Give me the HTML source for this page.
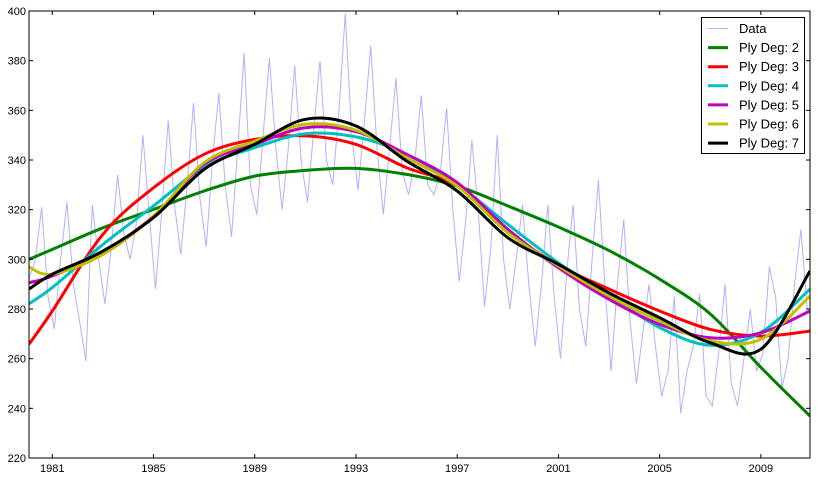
<!DOCTYPE html>
<html><head><meta charset="utf-8"><style>
html,body{margin:0;padding:0;background:#fff;}
svg{display:block;font-family:"Liberation Sans",sans-serif;}
</style></head><body>
<svg id="chart" width="817" height="479"></svg>
<script>
const curveYears=[1980.08,1981,1983,1985,1987,1989,1991,1993,1995,1997,1999,2001,2003,2005,2007,2009,2010.94];
const deg2=[300.0,304.0,312.7,320.1,327.5,333.5,335.8,336.6,334.2,329.5,321.5,313.0,303.5,292.0,278.0,256.5,236.9];
const deg3=[265.8,279.2,310.1,328.8,342.3,348.3,349.7,346.3,336.9,329.5,311.4,297.6,288.0,279.2,271.8,269.1,271.1];
const deg4=[282.1,288.6,306.0,321.5,337.2,345.0,350.6,349.3,342.3,330.2,314.1,298.6,285.4,272.5,265.4,270.6,288.0];
const deg5=[290.6,293.3,302.7,317.4,338.3,346.3,353.0,351.4,342.3,330.9,312.1,296.6,283.9,273.8,268.4,270.4,279.2];
const deg6=[296.9,294.0,302.0,317.4,338.9,347.6,354.4,352.0,340.9,329.5,310.7,297.3,285.2,275.2,267.1,267.8,285.2];
const deg7=[288.0,294.0,303.3,316.8,336.2,346.3,356.4,353.7,339.6,327.5,308.7,298.0,286.5,276.5,266.4,263.8,295.3];
const dataStart=1980.08;
const dataValues=[292,300,321,285,272,300,323,290,275,259,322,300,282,305,334,310,300,315,350,318,288,320,356,322,302,330,363,325,305,340,367,330,309,345,383,330,318,350,381,345,320,345,378,340,323,352,380,340,330,360,399,350,328,355,386,345,318,345,373,335,326,340,366,330,326,335,361,320,291,315,348,320,281,305,350,300,280,300,322,290,265,290,322,285,260,295,322,280,265,300,332,290,255,290,316,275,250,270,290,265,245,255,285,238,255,265,286,245,241,262,290,250,241,260,280,255,262,297,285,248,260,290,312,280];
const yTicks=[220,240,260,280,300,320,340,360,380,400];
const xTicks=[1981,1985,1989,1993,1997,2001,2005,2009];
const seriesNames=["Ply Deg: 2","Ply Deg: 3","Ply Deg: 4","Ply Deg: 5","Ply Deg: 6","Ply Deg: 7"];

const L=29,R=810,T=11,B=458,X0=1980.08,X1=2010.94,Y0=220,Y1=400;
const sx=v=>L+(v-X0)/(X1-X0)*(R-L);
const sy=v=>B-(v-Y0)/(Y1-Y0)*(B-T);
const NS="http://www.w3.org/2000/svg";
const svg=document.getElementById('chart');
function mk(t,a,p){const e=document.createElementNS(NS,t);for(const k in a)e.setAttribute(k,a[k]);(p||svg).appendChild(e);return e;}

const clip=mk('clipPath',{id:'pc'});mk('rect',{x:L,y:T,width:R-L,height:B-T},clip);
const plot=mk('g',{'clip-path':'url(#pc)'});



let d='';dataValues.forEach((v,i)=>{d+=(i?'L':'M')+sx(dataStart+i/4).toFixed(1)+','+sy(v).toFixed(1);});
const dl=mk('path',{d:d,fill:'none',stroke:'#b0b0ff','stroke-width':1},plot);



function smooth(xs,ys){
  const p=xs.map((x,i)=>[sx(x),sy(ys[i])]);
  let s='M'+p[0][0]+','+p[0][1];
  for(let i=0;i<p.length-1;i++){
    const p0=p[Math.max(0,i-1)],p1=p[i],p2=p[i+1],p3=p[Math.min(p.length-1,i+2)];
    const c1=[p1[0]+(p2[0]-p0[0])/6,p1[1]+(p2[1]-p0[1])/6];
    const c2=[p2[0]-(p3[0]-p1[0])/6,p2[1]-(p3[1]-p1[1])/6];
    s+='C'+c1[0].toFixed(1)+','+c1[1].toFixed(1)+' '+c2[0].toFixed(1)+','+c2[1].toFixed(1)+' '+p2[0].toFixed(1)+','+p2[1].toFixed(1);
  }
  return s;
}
const series=[deg2,deg3,deg4,deg5,deg6,deg7];
const colors=['#008000','#ff0000','#00bfbf','#bf00bf','#bfbf00','#000000'];
series.forEach((ys,k)=>{
  const e=mk('path',{d:smooth(curveYears,ys),fill:'none',stroke:colors[k],'stroke-width':3},plot);
  
  
});

const fr=mk('rect',{x:L,y:T,width:R-L,height:B-T,fill:'none',stroke:'#000','stroke-width':1});



yTicks.forEach(v=>{
  const y=sy(v);
  mk('line',{x1:L,x2:L+4,y1:y,y2:y,stroke:'#000'});
  mk('line',{x1:R-4,x2:R,y1:y,y2:y,stroke:'#000'});
  const t=mk('text',{x:L-3,y:y+4,'font-size':11,'text-anchor':'end'});t.textContent=v;
  
  
});
xTicks.forEach(v=>{
  const x=sx(v);
  mk('line',{x1:x,x2:x,y1:B,y2:B-4,stroke:'#000'});
  mk('line',{x1:x,x2:x,y1:T,y2:T+4,stroke:'#000'});
  const t=mk('text',{x:x,y:B+14,'font-size':11,'text-anchor':'middle'});t.textContent=v;
  
  
});

const lg=mk('g',{});


mk('rect',{x:701.5,y:17.5,width:103,height:136,fill:'#fff',stroke:'#000'},lg);
const names=["Data"].concat(seriesNames);
const lcols=['#b0b0ff'].concat(colors);
names.forEach((n,i)=>{
  const y=28.5+i*19.1;
  const g=mk('g',{},lg);
  
  
  mk('line',{x1:708,x2:728,y1:y,y2:y,stroke:lcols[i],'stroke-width':i?3:1},g);
  const t=mk('text',{x:739,y:y+4.5,'font-size':13},g);t.textContent=n;
});
</script>
</body></html>
